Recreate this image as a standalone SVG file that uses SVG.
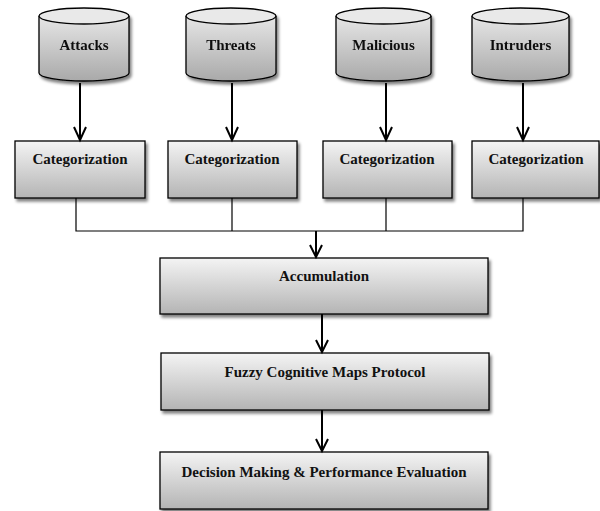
<svg xmlns="http://www.w3.org/2000/svg" width="600" height="511" viewBox="0 0 600 511">
<defs>
<linearGradient id="g" x1="0" y1="0" x2="0" y2="1">
<stop offset="0" stop-color="#f4f4f4"/>
<stop offset="1" stop-color="#b4b4b4"/>
</linearGradient>
<linearGradient id="gc" x1="0" y1="0" x2="0" y2="1">
<stop offset="0" stop-color="#e6e6e6"/>
<stop offset="1" stop-color="#a9a9a9"/>
</linearGradient>
<filter id="sh" x="-10%" y="-10%" width="130%" height="140%">
<feGaussianBlur in="SourceAlpha" stdDeviation="1.5"/>
<feOffset dx="1.5" dy="2.5" result="b"/>
<feComponentTransfer><feFuncA type="linear" slope="0.5"/></feComponentTransfer>
<feMerge><feMergeNode/><feMergeNode in="SourceGraphic"/></feMerge>
</filter>
<marker id="ah" viewBox="0 0 14 14" refX="7" refY="13" markerWidth="14" markerHeight="14" markerUnits="userSpaceOnUse" orient="auto-start-reverse">
</marker>
</defs>
<style>
.box{fill:url(#g);stroke:#000;stroke-width:1.3;filter:url(#sh)}
.cyl{fill:url(#gc);stroke:#000;stroke-width:1.3}
.top{fill:#e9e9e9;stroke:#000;stroke-width:1.3}
.t{font-family:"Liberation Serif","Times New Roman",serif;font-weight:bold;font-size:15px;text-anchor:middle;fill:#111}
.ln{fill:none;stroke:#000;stroke-width:1.2}
.ar{fill:none;stroke:#000;stroke-width:2}
</style>
<g id="attacks" filter="url(#sh)">
<path class="cyl" d="M39,16 V73 A45,8 0 0 0 129,73 V16"/>
<ellipse class="top" cx="84" cy="16" rx="45" ry="8"/>
<text class="t" x="84" y="50">Attacks</text>
</g>
<g id="threats" filter="url(#sh)">
<path class="cyl" d="M186,16 V73 A45,8 0 0 0 276,73 V16"/>
<ellipse class="top" cx="231" cy="16" rx="45" ry="8"/>
<text class="t" x="231" y="50">Threats</text>
</g>
<g id="malicious" filter="url(#sh)">
<path class="cyl" d="M336,16 V73 A47.5,8 0 0 0 431,73 V16"/>
<ellipse class="top" cx="383.5" cy="16" rx="47.5" ry="8"/>
<text class="t" x="383.5" y="50">Malicious</text>
</g>
<g id="intruders" filter="url(#sh)">
<path class="cyl" d="M472,16 V73 A48.5,8 0 0 0 569,73 V16"/>
<ellipse class="top" cx="520.5" cy="16" rx="48.5" ry="8"/>
<text class="t" x="520.5" y="50">Intruders</text>
</g>
<g id="cat1"><rect class="box" x="15" y="141" width="130" height="57"/><text class="t" x="80" y="164">Categorization</text></g>
<g id="cat2"><rect class="box" x="168" y="141" width="129" height="57"/><text class="t" x="232" y="164">Categorization</text></g>
<g id="cat3"><rect class="box" x="323" y="141" width="129" height="57"/><text class="t" x="387" y="164">Categorization</text></g>
<g id="cat4"><rect class="box" x="472" y="141" width="127" height="57"/><text class="t" x="536" y="164">Categorization</text></g>
<g id="accumulation"><rect class="box" x="160" y="258" width="328" height="56"/><text class="t" x="324" y="281">Accumulation</text></g>
<g id="fcm"><rect class="box" x="161" y="353" width="328" height="57"/><text class="t" x="325" y="377">Fuzzy Cognitive Maps Protocol</text></g>
<g id="decision"><rect class="box" x="160" y="452" width="328" height="57"/><text class="t" x="324" y="477">Decision Making &amp; Performance Evaluation</text></g>
<g id="connectors">
<line class="ar" x1="80" y1="83" x2="80" y2="140"/><polyline class="ar" points="74,127 80,140 86,127"/>
<line class="ar" x1="232" y1="83" x2="232" y2="140"/><polyline class="ar" points="226,127 232,140 238,127"/>
<line class="ar" x1="386" y1="83" x2="386" y2="140"/><polyline class="ar" points="380,127 386,140 392,127"/>
<line class="ar" x1="523" y1="83" x2="523" y2="140"/><polyline class="ar" points="517,127 523,140 529,127"/>
<polyline class="ln" points="76,198 76,231 523,231 523,198"/>
<line class="ln" x1="232" y1="198" x2="232" y2="231"/>
<line class="ln" x1="386" y1="198" x2="386" y2="231"/>
<line class="ar" x1="316" y1="231" x2="316" y2="257"/><polyline class="ar" points="310,245 316,257 322,245"/>
<line class="ar" x1="322" y1="314" x2="322" y2="352"/><polyline class="ar" points="316,340 322,352 328,340"/>
<line class="ar" x1="322" y1="410" x2="322" y2="451"/><polyline class="ar" points="316,439 322,451 328,439"/>
</g>
</svg>
